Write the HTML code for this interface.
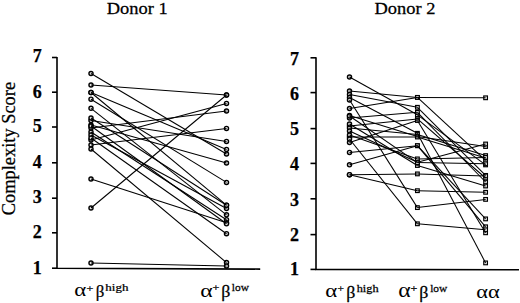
<!DOCTYPE html>
<html><head><meta charset="utf-8"><style>
html,body{margin:0;padding:0;background:#fff;overflow:hidden;}
svg{display:block;}
text{font-family:"Liberation Serif",serif;fill:#000;stroke:#000;stroke-width:0.25px;}
</style></head><body>
<svg width="520" height="303" viewBox="0 0 520 303">
<rect width="520" height="303" fill="#fff"/>
<g font-size="18.4">
<text transform="translate(106.8 13.7) scale(1.066 1)" font-size="17.3">Donor 1</text>
<text transform="translate(374.5 14.4) scale(1.066 1)" font-size="17.3">Donor 2</text>
<text transform="translate(14.9 148.6) rotate(-90)" text-anchor="middle" font-size="18.4">Complexity Score</text>
</g>
<g font-size="18" font-weight="bold" text-anchor="middle"><text x="37.3" y="274.25">1</text><text x="294.4" y="275.15">1</text><text x="37.3" y="237.55">2</text><text x="294.4" y="240.65">2</text><text x="37.3" y="203.05">3</text><text x="294.4" y="205.85">3</text><text x="37.3" y="167.85">4</text><text x="294.4" y="170.45">4</text><text x="37.3" y="132.45">5</text><text x="294.4" y="134.85">5</text><text x="37.3" y="97.85">6</text><text x="294.4" y="99.65">6</text><text x="37.3" y="61.55">7</text><text x="294.4" y="64.85">7</text></g>
<g><text transform="translate(74.33 295.92) scale(1.266 1)" font-size="18.07" style="stroke-width:0">α</text><text transform="translate(86.40 291.58) scale(1.219 1)" font-size="9.88">+</text><text transform="translate(95.71 296.86) scale(1.049 1)" font-size="16.14">β</text><text transform="translate(105.37 291.00) scale(1.235 1)" font-size="10.52">high</text><text transform="translate(200.30 296.62) scale(1.270 1)" font-size="18.69" style="stroke-width:0">α</text><text transform="translate(212.40 291.36) scale(1.246 1)" font-size="9.66">+</text><text transform="translate(221.24 297.09) scale(1.088 1)" font-size="16.47">β</text><text transform="translate(231.87 291.49) scale(1.054 1)" font-size="10.80">low</text><text transform="translate(325.33 297.41) scale(1.172 1)" font-size="19.52" style="stroke-width:0">α</text><text transform="translate(337.43 291.78) scale(1.153 1)" font-size="9.88">+</text><text transform="translate(346.24 297.80) scale(1.060 1)" font-size="16.90">β</text><text transform="translate(356.68 291.60) scale(1.170 1)" font-size="10.52">high</text><text transform="translate(398.30 297.40) scale(1.166 1)" font-size="20.35" style="stroke-width:0">α</text><text transform="translate(410.40 292.33) scale(1.058 1)" font-size="11.38">+</text><text transform="translate(419.24 297.80) scale(1.060 1)" font-size="16.90">β</text><text transform="translate(430.17 292.09) scale(1.014 1)" font-size="11.23">low</text><text transform="translate(476.25 297.62) scale(1.253 1)" font-size="17.86" style="stroke-width:0">αα</text></g>
<g stroke="#000" stroke-width="1.6" fill="none"><path d="M57.0 57.0 V268.2 L260.2 269.1"/><path d="M52.0 268.2 H57.0"/><path d="M52.0 232.8 H57.0"/><path d="M52.0 198.2 H57.0"/><path d="M52.0 162.8 H57.0"/><path d="M52.0 127.0 H57.0"/><path d="M52.0 92.2 H57.0"/><path d="M52.0 57.5 H57.0"/><path d="M316.0 57.3 V269.4 L519 269.8"/><path d="M310.5 269.4 H316.0"/><path d="M310.5 234.6 H316.0"/><path d="M310.5 198.8 H316.0"/><path d="M310.5 163.4 H316.0"/><path d="M310.5 128.6 H316.0"/><path d="M310.5 92.6 H316.0"/><path d="M310.5 57.8 H316.0"/></g>
<g stroke="#000" stroke-width="1.4" fill="#e0e0e0"><circle cx="91.0" cy="73.5" r="2.05"/><circle cx="226.5" cy="154.0" r="2.05"/><circle cx="91.0" cy="85.0" r="2.05"/><circle cx="226.5" cy="95.0" r="2.05"/><circle cx="91.0" cy="92.5" r="2.05"/><circle cx="226.5" cy="149.4" r="2.05"/><circle cx="91.0" cy="92.5" r="2.05"/><circle cx="226.5" cy="205.2" r="2.05"/><circle cx="91.0" cy="99.2" r="2.05"/><circle cx="226.5" cy="182.4" r="2.05"/><circle cx="91.0" cy="108.3" r="2.05"/><circle cx="226.5" cy="214.8" r="2.05"/><circle cx="91.0" cy="120.6" r="2.05"/><circle cx="226.5" cy="141.4" r="2.05"/><circle cx="91.0" cy="125.0" r="2.05"/><circle cx="226.5" cy="163.0" r="2.05"/><circle cx="91.0" cy="132.0" r="2.05"/><circle cx="226.5" cy="219.7" r="2.05"/><circle cx="91.0" cy="128.0" r="2.05"/><circle cx="226.5" cy="111.0" r="2.05"/><circle cx="91.0" cy="135.0" r="2.05"/><circle cx="226.5" cy="208.5" r="2.05"/><circle cx="91.0" cy="140.0" r="2.05"/><circle cx="226.5" cy="103.4" r="2.05"/><circle cx="91.0" cy="138.0" r="2.05"/><circle cx="226.5" cy="233.7" r="2.05"/><circle cx="91.0" cy="145.0" r="2.05"/><circle cx="226.5" cy="128.4" r="2.05"/><circle cx="91.0" cy="149.0" r="2.05"/><circle cx="226.5" cy="262.6" r="2.05"/><circle cx="91.0" cy="179.0" r="2.05"/><circle cx="226.5" cy="222.8" r="2.05"/><circle cx="91.0" cy="208.0" r="2.05"/><circle cx="226.5" cy="95.0" r="2.05"/><circle cx="91.0" cy="263.0" r="2.05"/><circle cx="226.5" cy="266.0" r="2.05"/><circle cx="91.0" cy="118.0" r="2.05"/><circle cx="226.5" cy="205.2" r="2.05"/><circle cx="91.0" cy="126.0" r="2.05"/><circle cx="226.5" cy="223.8" r="2.05"/><circle cx="349.5" cy="77.0" r="2.05"/><circle cx="349.5" cy="91.0" r="2.05"/><circle cx="349.5" cy="108.5" r="2.05"/><circle cx="349.5" cy="94.5" r="2.05"/><circle cx="349.5" cy="97.5" r="2.05"/><circle cx="349.5" cy="115.4" r="2.05"/><circle cx="349.5" cy="118.0" r="2.05"/><circle cx="349.5" cy="126.0" r="2.05"/><circle cx="349.5" cy="142.5" r="2.05"/><circle cx="349.5" cy="128.0" r="2.05"/><circle cx="349.5" cy="131.0" r="2.05"/><circle cx="349.5" cy="137.0" r="2.05"/><circle cx="349.5" cy="152.4" r="2.05"/><circle cx="349.5" cy="164.8" r="2.05"/><circle cx="349.5" cy="135.0" r="2.05"/><circle cx="349.5" cy="124.0" r="2.05"/><circle cx="349.5" cy="100.0" r="2.05"/><circle cx="349.5" cy="139.0" r="2.05"/><circle cx="349.5" cy="174.7" r="2.05"/><circle cx="349.5" cy="174.7" r="2.05"/><circle cx="349.5" cy="116.0" r="2.05"/></g>
<g stroke="#000" stroke-width="1.15" fill="#e0e0e0"><rect x="415.55" y="112.95" width="3.7" height="3.7"/><rect x="483.75" y="163.05" width="3.7" height="3.7"/><rect x="415.55" y="95.55" width="3.7" height="3.7"/><rect x="483.75" y="95.95" width="3.7" height="3.7"/><rect x="415.55" y="95.55" width="3.7" height="3.7"/><rect x="483.75" y="158.55" width="3.7" height="3.7"/><rect x="415.55" y="105.45" width="3.7" height="3.7"/><rect x="483.75" y="173.55" width="3.7" height="3.7"/><rect x="415.55" y="131.45" width="3.7" height="3.7"/><rect x="483.75" y="261.05" width="3.7" height="3.7"/><rect x="415.55" y="134.75" width="3.7" height="3.7"/><rect x="483.75" y="144.65" width="3.7" height="3.7"/><rect x="415.55" y="110.45" width="3.7" height="3.7"/><rect x="483.75" y="180.15" width="3.7" height="3.7"/><rect x="415.55" y="117.05" width="3.7" height="3.7"/><rect x="483.75" y="176.15" width="3.7" height="3.7"/><rect x="415.55" y="118.65" width="3.7" height="3.7"/><rect x="483.75" y="230.95" width="3.7" height="3.7"/><rect x="415.55" y="132.65" width="3.7" height="3.7"/><rect x="483.75" y="153.75" width="3.7" height="3.7"/><rect x="415.55" y="160.35" width="3.7" height="3.7"/><rect x="483.75" y="142.15" width="3.7" height="3.7"/><rect x="415.55" y="135.15" width="3.7" height="3.7"/><rect x="483.75" y="156.15" width="3.7" height="3.7"/><rect x="415.55" y="143.85" width="3.7" height="3.7"/><rect x="483.75" y="217.05" width="3.7" height="3.7"/><rect x="415.55" y="143.85" width="3.7" height="3.7"/><rect x="483.75" y="224.95" width="3.7" height="3.7"/><rect x="415.55" y="157.05" width="3.7" height="3.7"/><rect x="483.75" y="155.55" width="3.7" height="3.7"/><rect x="415.55" y="163.65" width="3.7" height="3.7"/><rect x="483.75" y="184.15" width="3.7" height="3.7"/><rect x="415.55" y="205.75" width="3.7" height="3.7"/><rect x="483.75" y="197.55" width="3.7" height="3.7"/><rect x="415.55" y="221.95" width="3.7" height="3.7"/><rect x="483.75" y="227.95" width="3.7" height="3.7"/><rect x="415.55" y="172.05" width="3.7" height="3.7"/><rect x="483.75" y="174.05" width="3.7" height="3.7"/><rect x="415.55" y="188.85" width="3.7" height="3.7"/><rect x="483.75" y="190.45" width="3.7" height="3.7"/><rect x="415.55" y="160.75" width="3.7" height="3.7"/><rect x="483.75" y="161.95" width="3.7" height="3.7"/></g>
<g stroke="#000" stroke-width="1.05" fill="none"><line x1="91.0" y1="73.5" x2="226.5" y2="154.0"/><line x1="91.0" y1="85.0" x2="226.5" y2="95.0"/><line x1="91.0" y1="92.5" x2="226.5" y2="149.4"/><line x1="91.0" y1="92.5" x2="226.5" y2="205.2"/><line x1="91.0" y1="99.2" x2="226.5" y2="182.4"/><line x1="91.0" y1="108.3" x2="226.5" y2="214.8"/><line x1="91.0" y1="120.6" x2="226.5" y2="141.4"/><line x1="91.0" y1="125.0" x2="226.5" y2="163.0"/><line x1="91.0" y1="132.0" x2="226.5" y2="219.7"/><line x1="91.0" y1="128.0" x2="226.5" y2="111.0"/><line x1="91.0" y1="135.0" x2="226.5" y2="208.5"/><line x1="91.0" y1="140.0" x2="226.5" y2="103.4"/><line x1="91.0" y1="138.0" x2="226.5" y2="233.7"/><line x1="91.0" y1="145.0" x2="226.5" y2="128.4"/><line x1="91.0" y1="149.0" x2="226.5" y2="262.6"/><line x1="91.0" y1="179.0" x2="226.5" y2="222.8"/><line x1="91.0" y1="208.0" x2="226.5" y2="95.0"/><line x1="91.0" y1="263.0" x2="226.5" y2="266.0"/><line x1="91.0" y1="118.0" x2="226.5" y2="205.2"/><line x1="91.0" y1="126.0" x2="226.5" y2="223.8"/><line x1="349.5" y1="77.0" x2="417.4" y2="114.8"/><line x1="417.4" y1="114.8" x2="485.6" y2="164.9"/><line x1="349.5" y1="91.0" x2="417.4" y2="97.4"/><line x1="417.4" y1="97.4" x2="485.6" y2="97.8"/><line x1="349.5" y1="108.5" x2="417.4" y2="97.4"/><line x1="417.4" y1="97.4" x2="485.6" y2="160.4"/><line x1="349.5" y1="94.5" x2="417.4" y2="107.3"/><line x1="417.4" y1="107.3" x2="485.6" y2="175.4"/><line x1="349.5" y1="97.5" x2="417.4" y2="133.3"/><line x1="417.4" y1="133.3" x2="485.6" y2="262.9"/><line x1="349.5" y1="115.4" x2="417.4" y2="136.6"/><line x1="417.4" y1="136.6" x2="485.6" y2="146.5"/><line x1="349.5" y1="118.0" x2="417.4" y2="112.3"/><line x1="417.4" y1="112.3" x2="485.6" y2="182.0"/><line x1="349.5" y1="126.0" x2="417.4" y2="118.9"/><line x1="417.4" y1="118.9" x2="485.6" y2="178.0"/><line x1="349.5" y1="142.5" x2="417.4" y2="120.5"/><line x1="417.4" y1="120.5" x2="485.6" y2="232.8"/><line x1="349.5" y1="128.0" x2="417.4" y2="134.5"/><line x1="417.4" y1="134.5" x2="485.6" y2="155.6"/><line x1="349.5" y1="131.0" x2="417.4" y2="162.2"/><line x1="417.4" y1="162.2" x2="485.6" y2="144.0"/><line x1="349.5" y1="137.0" x2="417.4" y2="137.0"/><line x1="417.4" y1="137.0" x2="485.6" y2="158.0"/><line x1="349.5" y1="152.4" x2="417.4" y2="145.7"/><line x1="417.4" y1="145.7" x2="485.6" y2="218.9"/><line x1="349.5" y1="164.8" x2="417.4" y2="145.7"/><line x1="417.4" y1="145.7" x2="485.6" y2="226.8"/><line x1="349.5" y1="135.0" x2="417.4" y2="158.9"/><line x1="417.4" y1="158.9" x2="485.6" y2="157.4"/><line x1="349.5" y1="124.0" x2="417.4" y2="165.5"/><line x1="417.4" y1="165.5" x2="485.6" y2="186.0"/><line x1="349.5" y1="100.0" x2="417.4" y2="207.6"/><line x1="417.4" y1="207.6" x2="485.6" y2="199.4"/><line x1="349.5" y1="139.0" x2="417.4" y2="223.8"/><line x1="417.4" y1="223.8" x2="485.6" y2="229.8"/><line x1="349.5" y1="174.7" x2="417.4" y2="173.9"/><line x1="417.4" y1="173.9" x2="485.6" y2="175.9"/><line x1="349.5" y1="174.7" x2="417.4" y2="190.7"/><line x1="417.4" y1="190.7" x2="485.6" y2="192.3"/><line x1="349.5" y1="116.0" x2="417.4" y2="162.6"/><line x1="417.4" y1="162.6" x2="485.6" y2="163.8"/></g>
</svg>
</body></html>
